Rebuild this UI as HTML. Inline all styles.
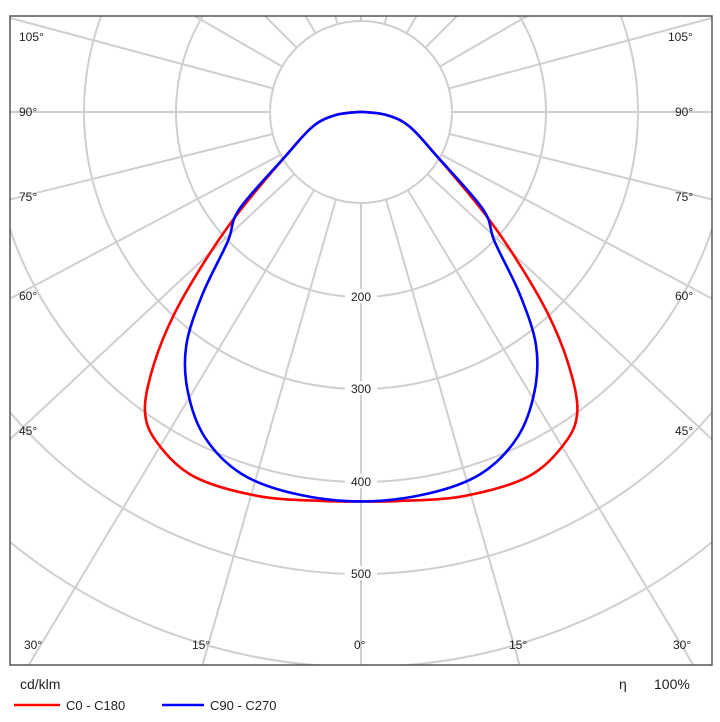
<!DOCTYPE html>
<html><head><meta charset="utf-8"><style>
html,body{margin:0;padding:0;background:#fff;width:720px;height:722px;overflow:hidden}
svg text{font-family:"Liberation Sans",sans-serif;fill:#222}
</style></head><body>
<svg id="s" width="720" height="722" xmlns="http://www.w3.org/2000/svg" style="display:block">
<defs><clipPath id="c"><rect x="10" y="16" width="702" height="649"/></clipPath></defs>
<g id="grid" clip-path="url(#c)" stroke="#cfcfcf" stroke-width="2" fill="none"></g>
<g id="curves" clip-path="url(#c)" fill="none" stroke-width="2.6"></g>
<rect x="10" y="16" width="702" height="649" fill="none" stroke="#555" stroke-width="1.5"/>
<g font-size="12" text-anchor="middle" id="vals">
<rect x="345" y="289" width="32" height="14" fill="#fff"/><text x="361" y="301">200</text>
<rect x="345" y="381" width="32" height="14" fill="#fff"/><text x="361" y="393">300</text>
<rect x="345" y="474" width="32" height="14" fill="#fff"/><text x="361" y="486">400</text>
<rect x="345" y="566" width="32" height="14" fill="#fff"/><text x="361" y="578">500</text>
</g>
<g font-size="12">
<text x="19" y="41">105°</text><text x="19" y="116">90°</text><text x="19" y="201">75°</text>
<text x="19" y="300">60°</text><text x="19" y="435">45°</text>
<text x="668" y="41">105°</text><text x="675" y="116">90°</text><text x="675" y="201">75°</text>
<text x="675" y="300">60°</text><text x="675" y="435">45°</text>
<text x="24" y="649">30°</text><text x="192" y="649">15°</text><text x="354" y="649">0°</text>
<text x="509" y="649">15°</text><text x="673" y="649">30°</text>
</g>
<text x="20" y="689" font-size="14">cd/klm</text>
<text x="619" y="689" font-size="14">η</text>
<text x="654" y="689" font-size="14">100%</text>
<line x1="14" y1="705" x2="60" y2="705" stroke="#f00" stroke-width="2.5"/>
<text x="66" y="710" font-size="13">C0 - C180</text>
<line x1="162" y1="705" x2="204" y2="705" stroke="#00f" stroke-width="2.5"/>
<text x="210" y="710" font-size="13">C90 - C270</text>
</svg>
<script>
var NS="http://www.w3.org/2000/svg",cx=361,cy=112;
var g=document.getElementById('grid');
function el(t,a,p){var e=document.createElementNS(NS,t);for(var k in a)e.setAttribute(k,a[k]);p.appendChild(e);return e;}
[91,185,277,370,462,555].forEach(function(r){el('circle',{cx:cx,cy:cy,r:r},g);});
var half=[0,16,31,47,62,76,90,105,120,135,150,165,180];
var angs=[];half.forEach(function(a){angs.push(a);if(a>0&&a<180)angs.push(-a);});
angs.forEach(function(a){var t=a*Math.PI/180;el('line',{x1:cx+91*Math.sin(t),y1:cy+91*Math.cos(t),x2:cx+900*Math.sin(t),y2:cy+900*Math.cos(t)},g);});
var S=1/2.1736;
function path(left,col){
 var pts=left.slice();
 for(var i=left.length-2;i>=0;i--)pts.push([1570-left[i][0],left[i][1]]);
 pts=pts.map(function(p){return [p[0]*S,p[1]*S];});
 var d="M"+pts[0][0]+","+pts[0][1];
 for(var i=0;i<pts.length-1;i++){
  var p0=pts[i-1]||pts[i],p1=pts[i],p2=pts[i+1],p3=pts[i+2]||p2;
  d+=" C"+(p1[0]+(p2[0]-p0[0])/6)+","+(p1[1]+(p2[1]-p0[1])/6)+" "+(p2[0]-(p3[0]-p1[0])/6)+","+(p2[1]-(p3[1]-p1[1])/6)+" "+p2[0]+","+p2[1];
 }
 el('path',{d:d,stroke:col},document.getElementById('curves'));
}
var red=[[785,243],[730,250],[680,275],[620,340],[520,460],[450,560],[380,680],[335,790],[315,890],[340,960],[420,1035],[560,1078],[700,1089],[785,1090]];
var blue=[[785,243],[730,250],[680,275],[620,340],[520,455],[495,525],[440,640],[405,750],[408,850],[445,950],[525,1030],[640,1073],[785,1090]];
path(red,'#f00');path(blue,'#00f');
</script>
</body></html>
